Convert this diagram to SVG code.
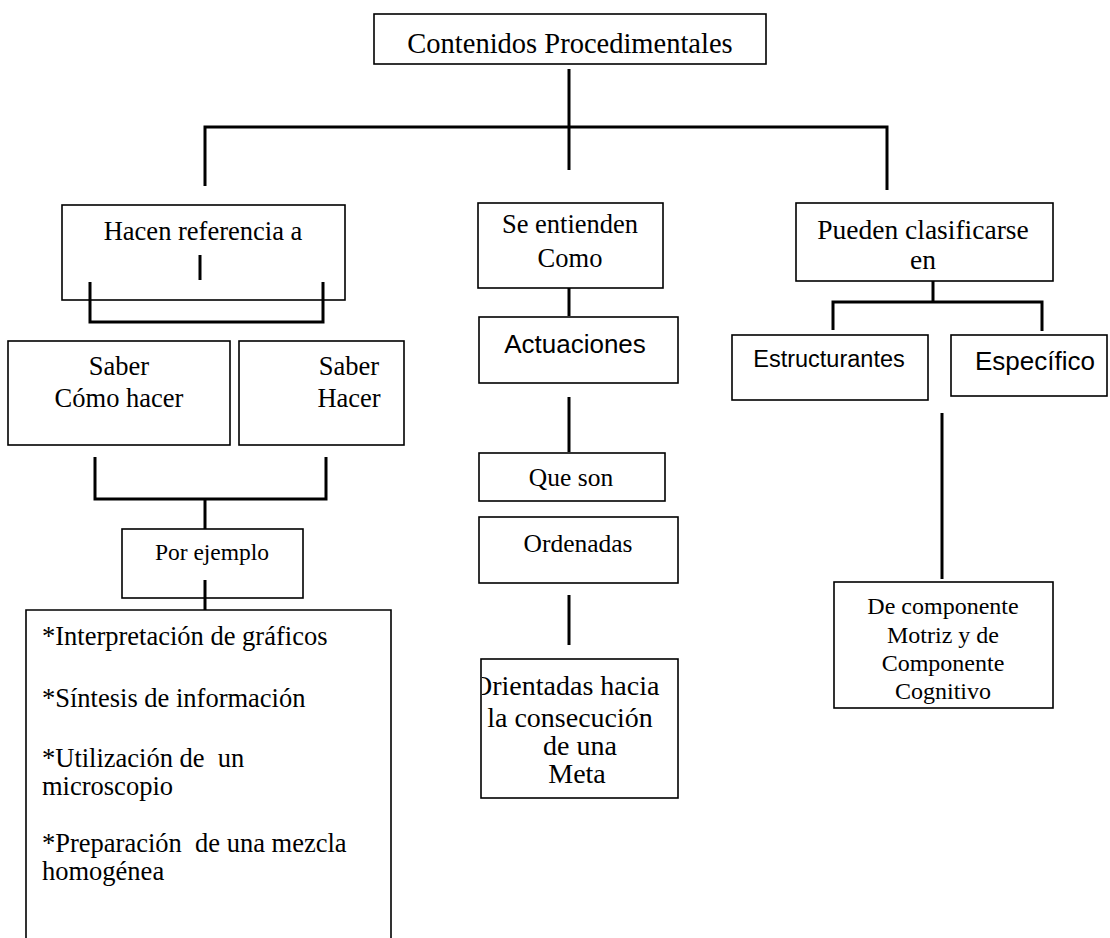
<svg xmlns="http://www.w3.org/2000/svg" width="1110" height="938" viewBox="0 0 1110 938">
<style>
.box{fill:#fff;stroke:#000;stroke-width:1.6}
.c{fill:none;stroke:#000;stroke-width:3;stroke-linecap:butt;stroke-linejoin:miter}
.t{font-family:"Liberation Serif","Times New Roman",serif;font-size:26.5px;fill:#000}
.s{font-family:"Liberation Sans",Arial,sans-serif;font-size:26px;fill:#000}
.m{text-anchor:middle}
</style>
<defs>
<clipPath id="clipOr"><rect x="482" y="659" width="196" height="139"/></clipPath>
</defs>
<rect width="1110" height="938" fill="#fff"/>

<g id="n-contenidos">
<rect class="box" x="374" y="14" width="392" height="50"/>
<text class="t m" x="570" y="53" style="font-size:28.5px">Contenidos Procedimentales</text>
</g>

<g id="n-hacen">
<rect class="box" x="62" y="205" width="283" height="95"/>
<text class="t m" x="203" y="240">Hacen referencia a</text>
</g>

<g id="n-saber-como">
<rect class="box" x="8" y="341" width="222" height="104"/>
<text class="t m" x="119" y="375">Saber</text>
<text class="t m" x="119" y="407">Cómo hacer</text>
</g>

<g id="n-saber-hacer">
<rect class="box" x="239" y="341" width="165" height="104"/>
<text class="t m" x="349" y="375">Saber</text>
<text class="t m" x="349" y="407">Hacer</text>
</g>

<g id="n-por-ejemplo">
<rect class="box" x="122" y="529" width="181" height="69"/>
<text class="t m" x="212" y="560" style="font-size:23.5px">Por ejemplo</text>
</g>

<g id="n-ejemplos">
<path class="box" d="M26,945 V610 H391 V945"/>
<text class="t" x="42" y="645">*Interpretación de gráficos</text>
<text class="t" x="42" y="707">*Síntesis de información</text>
<text class="t" x="42" y="767" xml:space="preserve">*Utilización de  un</text>
<text class="t" x="42" y="795">microscopio</text>
<text class="t" x="42" y="852" xml:space="preserve">*Preparación  de una mezcla</text>
<text class="t" x="42" y="880">homogénea</text>
</g>

<g id="n-se-entienden">
<rect class="box" x="478" y="203" width="185" height="85"/>
<text class="t m" x="570" y="233">Se entienden</text>
<text class="t m" x="570" y="267">Como</text>
</g>

<g id="n-actuaciones">
<rect class="box" x="479" y="317" width="199" height="66"/>
<text class="s m" x="575" y="353">Actuaciones</text>
</g>

<g id="n-que-son">
<rect class="box" x="479" y="453" width="186" height="48"/>
<text class="t m" x="571" y="486" style="font-size:25.5px">Que son</text>
</g>

<g id="n-ordenadas">
<rect class="box" x="479" y="517" width="199" height="66"/>
<text class="t m" x="578" y="552" style="font-size:25.5px">Ordenadas</text>
</g>

<g id="n-orientadas">
<rect class="box" x="481" y="659" width="197" height="139"/>
<text class="t" x="472" y="695" style="font-size:28px" clip-path="url(#clipOr)">Orientadas hacia</text>
<text class="t m" x="570" y="727" style="font-size:28px">la consecución</text>
<text class="t m" x="580" y="755" style="font-size:28px">de una</text>
<text class="t m" x="577" y="783" style="font-size:28px">Meta</text>
</g>

<g id="n-pueden">
<rect class="box" x="796" y="203" width="257" height="78"/>
<text class="t m" x="923" y="239" style="font-size:27.5px">Pueden clasificarse</text>
<text class="t m" x="923" y="269" style="font-size:27.5px">en</text>
</g>

<g id="n-estructurantes">
<rect class="box" x="732" y="335" width="196" height="65"/>
<text class="s m" x="829" y="367" style="font-size:23.5px">Estructurantes</text>
</g>

<g id="n-especifico">
<rect class="box" x="951" y="335" width="156" height="61"/>
<text class="s m" x="1035" y="370">Específico</text>
</g>

<g id="n-componente">
<rect class="box" x="834" y="582" width="219" height="126"/>
<text class="t m" x="943" y="614" style="font-size:24px">De componente</text>
<text class="t m" x="943" y="643" style="font-size:24px">Motriz y de</text>
<text class="t m" x="943" y="671" style="font-size:24px">Componente</text>
<text class="t m" x="943" y="699" style="font-size:24px">Cognitivo</text>
</g>

<g id="connectors">
<path class="c" d="M569,69 V170"/>
<path class="c" d="M205,186 V127 H887 V190"/>
<path class="c" d="M200,255 V280"/>
<path class="c" d="M90,282 V322 H323 V282"/>
<path class="c" d="M95,457 V499 H326 V457"/>
<path class="c" d="M205,499 V529"/>
<path class="c" d="M205,580 V610"/>
<path class="c" d="M569,288 V316"/>
<path class="c" d="M569,397 V452"/>
<path class="c" d="M569,595 V645"/>
<path class="c" d="M933,281 V302"/>
<path class="c" d="M833,330 V302 H1042 V331"/>
<path class="c" d="M942,413 V579"/>
</g>
</svg>
